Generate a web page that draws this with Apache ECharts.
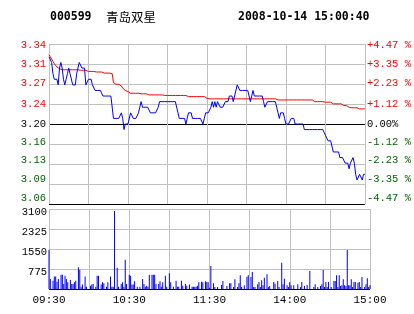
<!DOCTYPE html>
<html><head><meta charset="utf-8">
<script src="https://cdn.jsdelivr.net/npm/echarts@6/dist/echarts.min.js"></script>
<style>html,body{margin:0;padding:0;background:#fff}#c{width:414px;height:314px}</style>
</head><body><div id="c"></div>
<script>
const stockCode = '000599';
const stockName = '青岛双星';
const stamp = '2008-10-14 15:00:40';
const prevClose = 3.20;
const pctTicks = [-4.47, -3.35, -2.23, -1.12, 0, 1.12, 2.23, 3.35, 4.47];
const priceLabels = ['3.06','3.09','3.13','3.16','3.20','3.24','3.27','3.31','3.34'];
const pctLabels = ['-4.47 %','-3.35 %','-2.23 %','-1.12 %','0.00%','+1.12 %','+2.23 %','+3.35 %','+4.47 %'];
const volTicks = [0, 775, 1550, 2325, 3100];
const timeLabels = ['09:30','10:30','11:30','14:00','15:00'];

const price = [
3.32,3.32,3.31,3.29,3.28,3.28,3.28,3.27,3.30,3.31,
3.30,3.28,3.27,3.28,3.29,3.30,3.29,3.29,3.27,3.27,
3.27,3.29,3.30,3.31,3.31,3.30,3.30,3.30,3.27,3.27,
3.28,3.28,3.28,3.27,3.27,3.26,3.26,3.26,3.26,3.26,
3.26,3.25,3.25,3.25,3.25,3.25,3.25,3.25,3.25,3.21,
3.21,3.21,3.21,3.21,3.21,3.22,3.21,3.19,3.20,3.20,
3.20,3.20,3.22,3.22,3.21,3.21,3.21,3.21,3.22,3.23,
3.24,3.23,3.23,3.23,3.23,3.23,3.23,3.22,3.22,3.22,
3.22,3.22,3.22,3.23,3.24,3.24,3.24,3.24,3.24,3.24,
3.24,3.24,3.24,3.24,3.24,3.24,3.24,3.24,3.22,3.21,
3.21,3.21,3.21,3.21,3.20,3.21,3.22,3.22,3.22,3.21,
3.21,3.21,3.21,3.21,3.21,3.21,3.21,3.20,3.21,3.22,
3.22,3.22,3.22,3.23,3.24,3.23,3.24,3.23,3.24,3.24,
3.23,3.23,3.23,3.23,3.24,3.24,3.24,3.25,3.25,3.25,
3.24,3.25,3.25,3.27,3.27,3.26,3.26,3.26,3.26,3.26,
3.26,3.26,3.25,3.24,3.24,3.26,3.25,3.25,3.25,3.25,
3.25,3.25,3.25,3.24,3.23,3.23,3.24,3.24,3.24,3.24,
3.24,3.24,3.24,3.23,3.22,3.21,3.22,3.22,3.22,3.21,
3.20,3.20,3.20,3.20,3.21,3.21,3.21,3.20,3.20,3.20,
3.20,3.20,3.20,3.20,3.19,3.19,3.19,3.19,3.19,3.19,
3.19,3.19,3.19,3.19,3.19,3.19,3.19,3.19,3.19,3.19,
3.18,3.18,3.17,3.17,3.17,3.17,3.15,3.15,3.15,3.15,
3.15,3.14,3.14,3.14,3.14,3.13,3.13,3.13,3.12,3.13,
3.13,3.14,3.13,3.11,3.10,3.10,3.11,3.11,3.10,3.11,
3.11
];

const avgPrice = [
3.324,3.320,3.316,3.312,3.308,3.305,3.302,3.300,3.299,3.298,
3.297,3.297,3.297,3.297,3.297,3.297,3.297,3.297,3.297,3.297,
3.297,3.297,3.297,3.296,3.296,3.296,3.296,3.296,3.296,3.296,
3.294,3.294,3.294,3.294,3.294,3.293,3.293,3.293,3.293,3.293,
3.293,3.291,3.291,3.291,3.291,3.291,3.291,3.290,3.290,3.274,
3.271,3.271,3.271,3.271,3.268,3.268,3.264,3.264,3.260,3.260,
3.258,3.258,3.255,3.255,3.255,3.255,3.255,3.255,3.255,3.254,
3.254,3.254,3.254,3.254,3.254,3.254,3.252,3.252,3.252,3.252,
3.252,3.252,3.252,3.252,3.252,3.252,3.252,3.251,3.251,3.251,
3.251,3.251,3.251,3.251,3.251,3.251,3.251,3.251,3.251,3.251,
3.251,3.251,3.251,3.251,3.251,3.249,3.249,3.249,3.249,3.249,
3.249,3.249,3.249,3.249,3.249,3.249,3.249,3.249,3.249,3.246,
3.246,3.245,3.245,3.245,3.245,3.245,3.245,3.245,3.245,3.245,
3.245,3.245,3.245,3.245,3.245,3.245,3.245,3.245,3.245,3.245,
3.245,3.245,3.245,3.245,3.245,3.245,3.245,3.245,3.245,3.245,
3.245,3.245,3.245,3.245,3.245,3.245,3.245,3.245,3.245,3.245,
3.245,3.245,3.245,3.245,3.245,3.245,3.245,3.245,3.245,3.245,
3.245,3.245,3.245,3.245,3.243,3.243,3.243,3.243,3.243,3.243,
3.243,3.243,3.243,3.243,3.243,3.243,3.243,3.243,3.243,3.243,
3.243,3.243,3.243,3.243,3.243,3.243,3.243,3.243,3.243,3.243,
3.243,3.240,3.240,3.240,3.240,3.240,3.240,3.240,3.240,3.239,
3.239,3.239,3.239,3.239,3.239,3.239,3.236,3.236,3.236,3.236,
3.236,3.236,3.236,3.233,3.233,3.233,3.233,3.230,3.230,3.230,
3.229,3.229,3.229,3.229,3.229,3.227,3.227,3.227,3.227,3.227,
3.227
];

const volume = [
1520,390,0,320,480,480,285,390,0,555,
555,195,516,390,260,0,350,195,195,260,
320,0,840,750,90,170,0,480,90,0,
0,130,170,195,0,90,516,516,0,170,
260,220,0,90,260,0,480,90,90,3020,
0,826,90,0,195,260,90,1137,195,0,
555,516,170,170,300,0,90,0,90,0,
390,195,90,130,90,555,0,555,555,555,
195,0,195,300,90,260,0,516,90,0,
607,260,0,90,0,320,90,90,0,320,
130,0,195,130,0,170,0,90,90,90,
90,130,260,0,285,260,0,300,270,260,
50,891,0,220,78,0,78,0,0,155,
310,0,0,116,0,220,220,0,78,375,
0,78,220,530,78,0,143,0,477,530,
0,465,660,78,78,0,180,270,78,336,
143,440,0,568,78,116,0,0,270,207,
0,310,78,0,1020,180,400,0,143,78,
270,143,0,143,0,0,180,0,78,270,
0,116,0,155,0,697,0,0,78,180,
0,78,0,116,180,736,78,270,78,270,
0,78,0,310,310,530,78,530,116,143,
375,143,116,1511,143,143,375,78,270,270,
0,245,270,78,465,0,78,180,414,78,
143
];

function pad(n){ return (n < 10 ? '0' : '') + n; }
function hm(m){ return pad(Math.floor(m / 60)) + ':' + pad(m % 60); }
const minutes = [];
for (let m = 9 * 60 + 30; m <= 11 * 60 + 30; m++) minutes.push(hm(m));
for (let m = 13 * 60 + 1; m <= 15 * 60; m++) minutes.push(hm(m));

const priceTicks = pctTicks.map(p => +(prevClose * (1 + p / 100)).toFixed(6));
function tickIndex(v){
  let best = 0, bd = Infinity;
  priceTicks.forEach((t, i) => { const d = Math.abs(t - v); if (d < bd) { bd = d; best = i; } });
  return best;
}
const RED = '#ff0000', GREEN = '#006400', GRID = '#c0c0c0';
const mono = 'Liberation Mono';
const FS = 10.5;
// vertical nudge of each price label (px, negative = up), bottom to top
const labelNudge = [-6, -5, -3.5, -2, 0, 0, -0.5, 0, 1.5];
function labelRich(){
  const r = {};
  labelNudge.forEach((d, i) => {
    const col = i > 4 ? RED : (i < 4 ? GREEN : '#000000');
    r['t' + i] = { color: col, fontFamily: mono, fontSize: FS,
      padding: d < 0 ? [0, 0, -2 * d, 0] : [2 * d, 0, 0, 0] };
  });
  r.v = { color: '#000000', fontFamily: mono, fontSize: FS, padding: [6, 0, 0, 0] };
  return r;
}
const rich = labelRich();

const chart = echarts.init(document.getElementById('c'), null, { renderer: 'canvas' });
chart.setOption({
  animation: false,
  backgroundColor: '#ffffff',
  graphic: [
    { type: 'text', x: 50, y: 17, style: { text: stockCode, fill: '#000', font: 'bold 11.5px "DejaVu Sans Mono"', verticalAlign: 'middle' } },
    { type: 'text', x: 106, y: 17, style: { text: stockName, fill: '#000', font: '12.5px "Noto Sans CJK SC"', verticalAlign: 'middle' } },
    { type: 'text', x: 238, y: 17, style: { text: stamp, fill: '#000', font: 'bold 11.5px "DejaVu Sans Mono"', verticalAlign: 'middle' } }
  ],
  grid: [
    { left: 49, top: 44, width: 321, height: 160 },
    { left: 49, top: 209, width: 321, height: 80 }
  ],
  xAxis: [
    { type: 'category', gridIndex: 0, data: minutes, boundaryGap: false,
      axisLine: { show: false }, axisTick: { show: false }, axisLabel: { show: false },
      splitLine: { show: true, interval: (i) => i % 30 === 0, lineStyle: { color: GRID, width: 1 } } },
    { type: 'category', gridIndex: 1, data: minutes, boundaryGap: false,
      axisLine: { show: false }, axisTick: { show: false },
      axisLabel: { show: true, interval: (i, v) => timeLabels.indexOf(v) >= 0, fontFamily: mono, fontSize: 11, color: '#000', margin: 6 },
      splitLine: { show: true, interval: (i) => i % 30 === 0, lineStyle: { color: GRID, width: 1 } } }
  ],
  yAxis: [
    { type: 'value', gridIndex: 0, min: priceTicks[0], max: priceTicks[priceTicks.length - 1], position: 'left',
      axisLine: { show: false }, axisTick: { show: false, customValues: priceTicks },
      axisLabel: { customValues: priceTicks, formatter: (v) => { const i = tickIndex(v); return '{t' + i + '|' + priceLabels[i] + '}'; },
        rich: rich, fontFamily: mono, fontSize: FS, margin: 3 },
      splitLine: { show: true, lineStyle: { width: 1, color: ['#000000', GRID, GRID, GRID, '#000000', GRID, GRID, GRID, GRID] } } },
    { type: 'value', gridIndex: 0, min: priceTicks[0], max: priceTicks[priceTicks.length - 1], position: 'right',
      axisLine: { show: false }, axisTick: { show: false, customValues: priceTicks },
      axisLabel: { customValues: priceTicks, formatter: (v) => { const i = tickIndex(v); return '{t' + i + '|' + pctLabels[i] + '}'; },
        rich: rich, fontFamily: mono, fontSize: FS, margin: 2 },
      splitLine: { show: false } },
    { type: 'value', gridIndex: 1, min: volTicks[0], max: volTicks[volTicks.length - 1], interval: volTicks[1] - volTicks[0],
      axisLine: { show: false }, axisTick: { show: false },
      axisLabel: { showMinLabel: false, formatter: (v) => '{v|' + String(v) + '}', rich: rich, fontFamily: mono, fontSize: FS, color: '#000', margin: 2 },
      splitLine: { show: true, lineStyle: { width: 1, color: ['#000000', GRID, GRID, GRID, GRID] } } }
  ],
  series: [
    { type: 'line', xAxisIndex: 0, yAxisIndex: 0, data: price, showSymbol: false, symbol: 'none',
      lineStyle: { color: '#0000ff', width: 1 }, itemStyle: { color: '#0000ff' }, z: 3 },
    { type: 'line', xAxisIndex: 0, yAxisIndex: 0, data: avgPrice, showSymbol: false, symbol: 'none',
      lineStyle: { color: '#ff0000', width: 1 }, itemStyle: { color: '#ff0000' }, z: 2 },
    { type: 'bar', xAxisIndex: 1, yAxisIndex: 2, data: volume, barWidth: 1,
      itemStyle: { color: '#0000ff' } }
  ]
});
</script>
</body></html>
